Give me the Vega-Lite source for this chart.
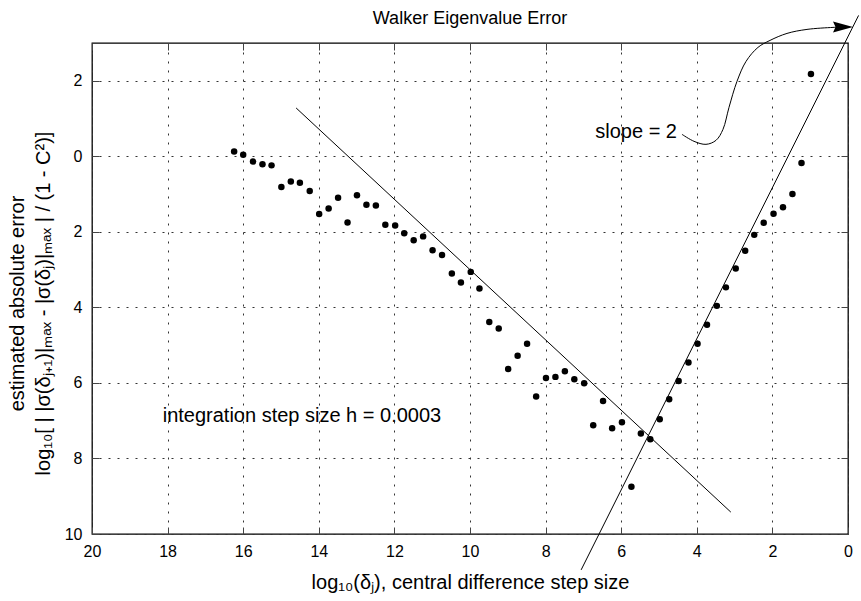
{
  "$schema": "https://vega.github.io/schema/vega-lite/v6.json",
  "width": 756,
  "height": 491,
  "autosize": "none",
  "padding": {"left": 92, "top": 43, "right": 13, "bottom": 67},
  "background": "white",
  "title": {"text": "Walker Eigenvalue Error", "fontSize": 18, "fontWeight": "normal", "font": "Liberation Sans", "color": "black", "offset": -15, "anchor": "middle"},
  "config": {
    "view": {"stroke": "black", "strokeWidth": 1.3},
    "font": "Liberation Sans",
    "axis": {"labelFont": "Liberation Sans", "titleFont": "Liberation Sans", "labelColor": "black", "titleColor": "black", "titleFontWeight": "normal", "labelOverlap": false, "labelFlush": false, "labelBound": false}
  },
  "datasets": {
    "pts": [
      {"x": 16.24, "y": 0.13}, {"x": 16.0, "y": 0.04}, {"x": 15.74, "y": -0.14}, {"x": 15.49, "y": -0.21},
      {"x": 15.25, "y": -0.24}, {"x": 14.99, "y": -0.81}, {"x": 14.74, "y": -0.67}, {"x": 14.5, "y": -0.7},
      {"x": 14.24, "y": -0.92}, {"x": 13.99, "y": -1.53}, {"x": 13.74, "y": -1.38}, {"x": 13.49, "y": -1.1},
      {"x": 13.24, "y": -1.75}, {"x": 12.99, "y": -1.03}, {"x": 12.74, "y": -1.28}, {"x": 12.49, "y": -1.3},
      {"x": 12.24, "y": -1.81}, {"x": 11.98, "y": -1.83}, {"x": 11.74, "y": -2.04}, {"x": 11.49, "y": -2.22},
      {"x": 11.24, "y": -2.12}, {"x": 10.99, "y": -2.49}, {"x": 10.74, "y": -2.61}, {"x": 10.48, "y": -3.1},
      {"x": 10.24, "y": -3.34}, {"x": 9.98, "y": -3.06}, {"x": 9.75, "y": -3.5}, {"x": 9.49, "y": -4.39},
      {"x": 9.24, "y": -4.56}, {"x": 8.99, "y": -5.63}, {"x": 8.74, "y": -5.28}, {"x": 8.49, "y": -4.96},
      {"x": 8.25, "y": -6.36}, {"x": 7.99, "y": -5.87}, {"x": 7.74, "y": -5.84}, {"x": 7.49, "y": -5.69},
      {"x": 7.24, "y": -5.9}, {"x": 6.98, "y": -6.01}, {"x": 6.74, "y": -7.12}, {"x": 6.48, "y": -6.48},
      {"x": 6.24, "y": -7.2}, {"x": 5.98, "y": -7.04}, {"x": 5.73, "y": -8.75}, {"x": 5.48, "y": -7.34},
      {"x": 5.23, "y": -7.49}, {"x": 4.98, "y": -6.96}, {"x": 4.73, "y": -6.43}, {"x": 4.48, "y": -5.95},
      {"x": 4.22, "y": -5.46}, {"x": 3.98, "y": -4.96}, {"x": 3.73, "y": -4.46}, {"x": 3.47, "y": -3.96},
      {"x": 3.23, "y": -3.47}, {"x": 2.97, "y": -2.97}, {"x": 2.72, "y": -2.5}, {"x": 2.48, "y": -2.08},
      {"x": 2.23, "y": -1.76}, {"x": 1.97, "y": -1.52}, {"x": 1.72, "y": -1.35}, {"x": 1.47, "y": -1.0},
      {"x": 1.23, "y": -0.18}, {"x": 0.98, "y": 2.18}
    ],
    "lines": [
      {"line": "A", "x": 14.6, "y": 1.28}, {"line": "A", "x": 3.1, "y": -9.42},
      {"line": "B", "x": 7.06, "y": -10.95}, {"line": "B", "x": -0.28, "y": 3.73}
    ],
    "curve": [
      {"o": 1, "x": 4.392, "y": 0.582}, {"o": 2, "x": 4.074, "y": 0.397}, {"o": 3, "x": 3.757, "y": 0.317},
      {"o": 4, "x": 3.492, "y": 0.423}, {"o": 5, "x": 3.307, "y": 0.714}, {"o": 6, "x": 3.148, "y": 1.296},
      {"o": 7, "x": 2.937, "y": 1.984}, {"o": 8, "x": 2.698, "y": 2.513}, {"o": 9, "x": 2.381, "y": 2.884},
      {"o": 10, "x": 2.063, "y": 3.069}, {"o": 11, "x": 1.614, "y": 3.254}, {"o": 12, "x": 1.085, "y": 3.36},
      {"o": 13, "x": 0.397, "y": 3.413}, {"o": 14, "x": 0.2, "y": 3.42}
    ],
    "arrow": [{"x": 0.132, "y": 3.426}],
    "leftLabels": [{"x": 18.13, "y": -7.04, "text": "integration step size h = 0.0003"}],
    "rightLabels": [{"x": 4.524, "y": 0.489, "text": "slope = 2"}]
  },
  "resolve": {"axis": {"x": "independent", "y": "independent"}},
  "layer": [
    {
      "data": {"name": "pts"},
      "mark": {"type": "circle", "size": 42, "color": "black", "opacity": 1},
      "encoding": {
        "x": {"field": "x", "type": "quantitative", "scale": {"domain": [0, 20], "reverse": true, "nice": false, "zero": false},
          "axis": {"orient": "bottom", "values": [0, 2, 4, 6, 8, 10, 12, 14, 16, 18, 20], "grid": true, "gridDash": [2, 7], "gridColor": "#333", "gridWidth": 1, "domain": false, "tickSize": -7, "tickColor": "#444", "labelFontSize": 16, "labelPadding": 16, "title": "log₁₀(δⱼ), central difference step size", "titleFontSize": 20, "titlePadding": 13}},
        "y": {"field": "y", "type": "quantitative", "scale": {"domain": [-10, 3], "nice": false, "zero": false},
          "axis": {"orient": "left", "values": [-10, -8, -6, -4, -2, 0, 2], "labelExpr": "'' + abs(datum.value)", "grid": true, "gridDash": [2, 7], "gridColor": "#333", "gridWidth": 1, "domain": false, "tickSize": -7, "tickColor": "#444", "labelFontSize": 16, "labelPadding": 17, "title": ["estimated absolute error", "log₁₀[ | |σ(δⱼ₊₁)|ₘₐₓ - |σ(δⱼ)|ₘₐₓ | / (1 - C²)]"], "titleFontSize": 20, "titleLineHeight": 26, "titlePadding": 11, "titleY": 260}}
      }
    },
    {
      "data": {"name": "lines"},
      "mark": {"type": "line", "color": "black", "strokeWidth": 1, "clip": false},
      "encoding": {
        "x": {"field": "x", "type": "quantitative", "scale": {"domain": [0, 20], "reverse": true, "nice": false, "zero": false},
          "axis": {"orient": "top", "values": [0, 2, 4, 6, 8, 10, 12, 14, 16, 18, 20], "labels": false, "grid": false, "domain": false, "tickSize": -7, "tickColor": "#444", "title": null}},
        "y": {"field": "y", "type": "quantitative", "scale": {"domain": [-10, 3], "nice": false, "zero": false},
          "axis": {"orient": "right", "values": [-10, -8, -6, -4, -2, 0, 2], "labels": false, "grid": false, "domain": false, "tickSize": -7, "tickColor": "#444", "title": null}},
        "detail": {"field": "line", "type": "nominal"}
      }
    },
    {
      "data": {"name": "curve"},
      "mark": {"type": "line", "color": "black", "strokeWidth": 1, "interpolate": "catmull-rom", "clip": false},
      "encoding": {
        "x": {"field": "x", "type": "quantitative", "axis": null},
        "y": {"field": "y", "type": "quantitative", "axis": null},
        "order": {"field": "o", "type": "quantitative"}
      }
    },
    {
      "data": {"name": "arrow"},
      "mark": {"type": "point", "shape": "M1,0L-1,-0.55L-0.75,0L-1,0.55Z", "size": 400, "filled": true, "color": "black", "opacity": 1, "clip": false},
      "encoding": {
        "x": {"field": "x", "type": "quantitative", "axis": null},
        "y": {"field": "y", "type": "quantitative", "axis": null}
      }
    },
    {
      "data": {"name": "leftLabels"},
      "mark": {"type": "text", "fontSize": 20, "font": "Liberation Sans", "color": "black", "baseline": "alphabetic", "align": "left"},
      "encoding": {
        "x": {"field": "x", "type": "quantitative", "axis": null},
        "y": {"field": "y", "type": "quantitative", "axis": null},
        "text": {"field": "text"}
      }
    },
    {
      "data": {"name": "rightLabels"},
      "mark": {"type": "text", "fontSize": 20, "font": "Liberation Sans", "color": "black", "baseline": "alphabetic", "align": "right"},
      "encoding": {
        "x": {"field": "x", "type": "quantitative", "axis": null},
        "y": {"field": "y", "type": "quantitative", "axis": null},
        "text": {"field": "text"}
      }
    }
  ]
}
